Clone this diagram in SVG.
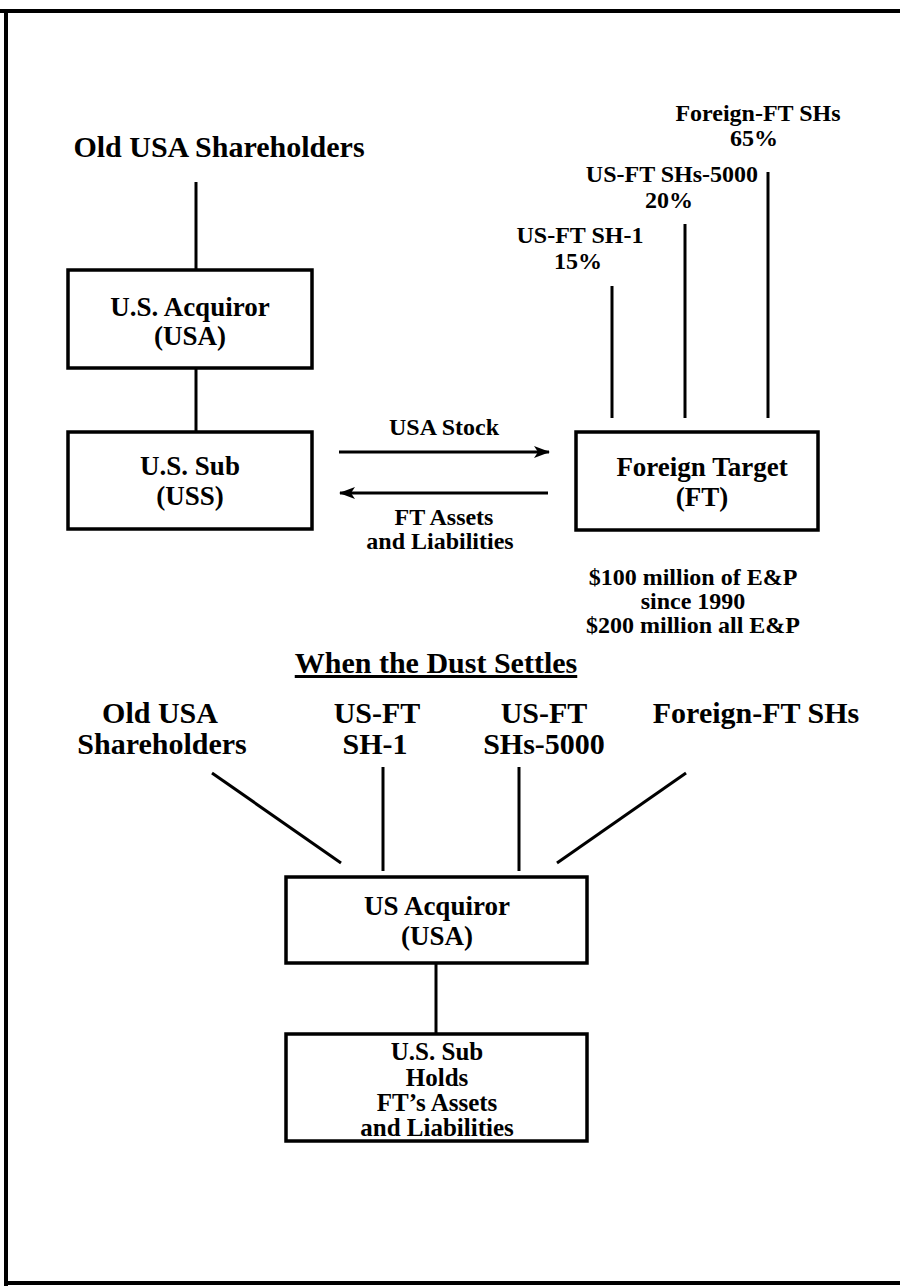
<svg xmlns="http://www.w3.org/2000/svg" width="900" height="1286" viewBox="0 0 900 1286">
<style>
text{font-family:"Liberation Serif","Times New Roman",serif;font-weight:bold;fill:#000;text-anchor:middle}
.box{fill:#fff;stroke:#000;stroke-width:3.5}
.ln{stroke:#000;stroke-width:3;fill:none}
.frame{stroke:#000;stroke-width:4;fill:none}
.t30{font-size:30px}
.t27{font-size:27px}
.t25{font-size:25px}
.t24{font-size:24px}
</style>
<defs>
<marker id="ah" markerWidth="16" markerHeight="12" refX="15" refY="6" orient="auto" markerUnits="userSpaceOnUse">
<path d="M0,0 L16,6 L0,12 L4,6 Z" fill="#000"/>
</marker>
</defs>
<rect width="900" height="1286" fill="#fff"/>
<g id="frame">
<path class="frame" d="M0,11 H900 M6,9 V1286 M4,1283 H900"/>
</g>
<g id="connectors">
<line class="ln" x1="196" y1="182" x2="196" y2="270"/>
<line class="ln" x1="196" y1="368" x2="196" y2="432"/>
<line class="ln" x1="612" y1="286" x2="612" y2="418"/>
<line class="ln" x1="685" y1="224" x2="685" y2="418"/>
<line class="ln" x1="768" y1="172" x2="768" y2="418"/>
<line class="ln" x1="339" y1="452" x2="549" y2="452" marker-end="url(#ah)"/>
<line class="ln" x1="548" y1="493" x2="340" y2="493" marker-end="url(#ah)"/>
<line class="ln" x1="212" y1="773" x2="341" y2="863"/>
<line class="ln" x1="383" y1="767" x2="383" y2="871"/>
<line class="ln" x1="519" y1="767" x2="519" y2="871"/>
<line class="ln" x1="686" y1="773" x2="557" y2="863"/>
<line class="ln" x1="436" y1="963" x2="436" y2="1033"/>
</g>
<g id="old-usa-shareholders">
<text class="t30" x="219" y="157">Old USA Shareholders</text>
</g>
<g id="us-acquiror">
<rect class="box" x="68" y="270" width="244" height="98"/>
<text class="t27" x="190" y="316">U.S. Acquiror</text>
<text class="t27" x="190" y="345">(USA)</text>
</g>
<g id="us-sub">
<rect class="box" x="68" y="432" width="244" height="97"/>
<text class="t27" x="190" y="475">U.S. Sub</text>
<text class="t27" x="190" y="505">(USS)</text>
</g>
<g id="foreign-ft-shs">
<text class="t24" x="758" y="121">Foreign-FT SHs</text>
<text class="t24" x="754" y="146">65%</text>
</g>
<g id="us-ft-shs-5000">
<text class="t24" x="672" y="182">US-FT SHs-5000</text>
<text class="t24" x="669" y="208">20%</text>
</g>
<g id="us-ft-sh-1">
<text class="t24" x="580" y="243">US-FT SH-1</text>
<text class="t24" x="578" y="269">15%</text>
</g>
<g id="foreign-target">
<rect class="box" x="576" y="432" width="242" height="98"/>
<text class="t27" x="702" y="476">Foreign Target</text>
<text class="t27" x="702" y="506">(FT)</text>
</g>
<g id="label-usa-stock">
<text class="t24" x="444" y="435">USA Stock</text>
</g>
<g id="label-ft-assets">
<text class="t24" x="444" y="525">FT Assets</text>
<text class="t24" x="440" y="549">and Liabilities</text>
</g>
<g id="ep-note">
<text class="t24" x="693" y="585">$100 million of E&amp;P</text>
<text class="t24" x="693" y="609">since 1990</text>
<text class="t24" x="693" y="633">$200 million all E&amp;P</text>
</g>
<g id="title">
<text class="t30" x="436" y="673" text-decoration="underline">When the Dust Settles</text>
</g>
<g id="b-old-usa">
<text class="t30" x="160" y="723">Old USA</text>
<text class="t30" x="162" y="754">Shareholders</text>
</g>
<g id="b-us-ft-sh-1">
<text class="t30" x="377" y="723">US-FT</text>
<text class="t30" x="375" y="754">SH-1</text>
</g>
<g id="b-us-ft-shs-5000">
<text class="t30" x="544" y="723">US-FT</text>
<text class="t30" x="544" y="754">SHs-5000</text>
</g>
<g id="b-foreign-ft-shs">
<text class="t30" x="756" y="723">Foreign-FT SHs</text>
</g>
<g id="us-acquiror-after">
<rect class="box" x="286" y="877" width="301" height="86"/>
<text class="t27" x="437" y="915">US Acquiror</text>
<text class="t27" x="437" y="945">(USA)</text>
</g>
<g id="us-sub-after">
<rect class="box" x="286" y="1034" width="301" height="107"/>
<text class="t25" x="437" y="1060">U.S. Sub</text>
<text class="t25" x="437" y="1086">Holds</text>
<text class="t25" x="437" y="1111">FT’s Assets</text>
<text class="t25" x="437" y="1136">and Liabilities</text>
</g>
</svg>
